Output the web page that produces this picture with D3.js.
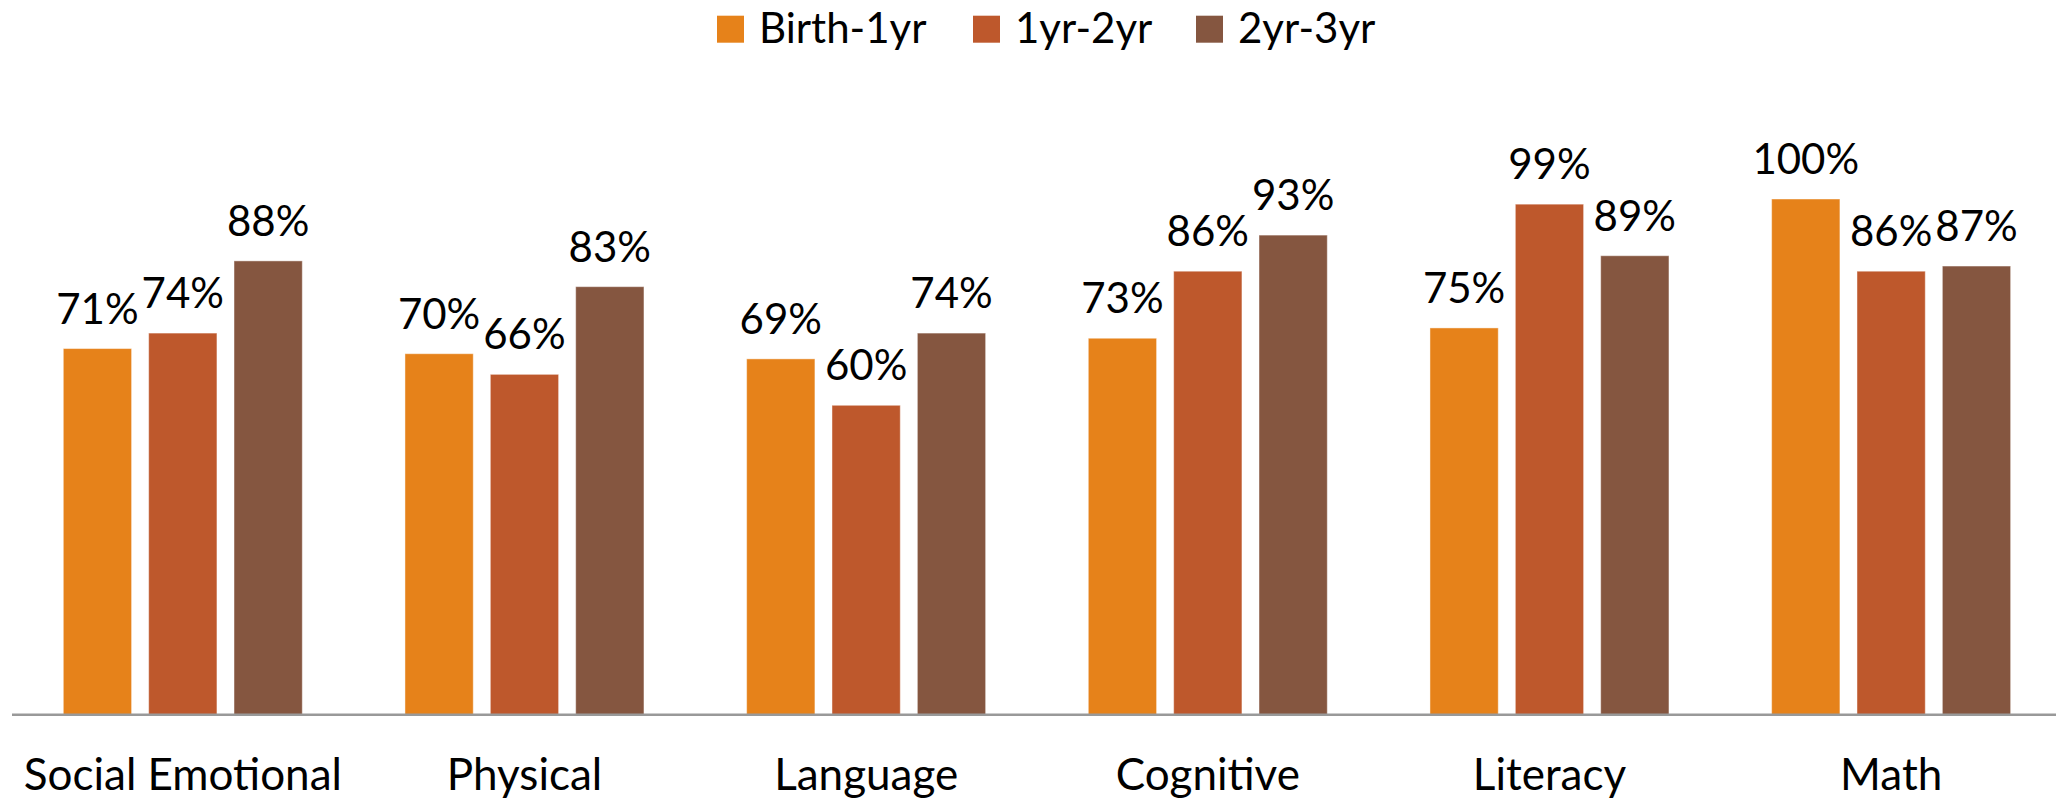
<!DOCTYPE html>
<html><head><meta charset="utf-8">
<script src="https://cdn.jsdelivr.net/npm/d3@7/dist/d3.min.js"></script>
<style>html,body{margin:0;padding:0;background:#fff;}svg{display:block;}</style>
</head><body>
<svg id="chart" width="2056" height="800"></svg>
<script>
const categories = ["Social Emotional", "Physical", "Language", "Cognitive", "Literacy", "Math"];
const seriesNames = ["Birth-1yr", "1yr-2yr", "2yr-3yr"];
const birthTo1 = [0.71, 0.70, 0.69, 0.73, 0.75, 1.00];
const oneTo2 = [0.74, 0.66, 0.60, 0.86, 0.99, 0.86];
const twoTo3 = [0.88, 0.83, 0.74, 0.93, 0.89, 0.87];
const colors = ["#E6821A", "#BE582C", "#855640"];

const seriesValues = [birthTo1, oneTo2, twoTo3];
const FONT = "Lato, 'Open Sans', sans-serif";
const FS = 42;

const svg = d3.select("#chart");
const x0 = d3.scaleBand().domain(categories).range([12, 2062]).paddingInner(0).paddingOuter(0);
const x1 = d3.scaleBand().domain(seriesNames).range([51.3, 290.3]).paddingInner(0.2).paddingOuter(0);
const y = d3.scaleLinear().domain([0, 1]).range([714.7, 199]);

const color = d3.scaleOrdinal().domain(seriesNames).range(colors);

const groups = svg.append("g").selectAll("g")
  .data(categories)
  .join("g")
  .attr("transform", d => `translate(${x0(d)},0)`);

groups.selectAll("rect")
  .data((c, i) => seriesNames.map((s, j) => ({s, v: seriesValues[j][i]})))
  .join("rect")
  .attr("x", d => x1(d.s))
  .attr("width", x1.bandwidth())
  .attr("y", d => y(d.v))
  .attr("height", d => y(0) - y(d.v))
  .attr("fill", d => color(d.s))
  .attr("stroke", "rgba(255,255,255,0.45)")
  .attr("stroke-width", 1);

groups.selectAll("text.lbl")
  .data((c, i) => seriesNames.map((s, j) => ({s, v: seriesValues[j][i]})))
  .join("text")
  .attr("class", "lbl")
  .attr("x", d => x1(d.s) + x1.bandwidth() / 2)
  .attr("y", d => y(d.v) - 25)
  .attr("text-anchor", "middle")
  .attr("font-family", FONT)
  .attr("font-size", FS)
  .attr("fill", "#000")
  .text(d => Math.round(d.v * 100) + "%");

// x axis
const xAxis = d3.axisBottom(x0).tickSize(0).tickPadding(0);
const axG = svg.append("g").attr("transform", `translate(0,${y(0)})`).call(xAxis);
axG.select(".domain").attr("stroke", "#999").attr("stroke-width", 2.5).attr("d", "M12,0H2056");
axG.selectAll(".tick text")
  .attr("font-family", FONT)
  .attr("font-size", 44)
  .attr("fill", "#000")
  .attr("dy", null)
  .attr("y", 790 - y(0));

// legend
const legendX = [717, 973, 1196];
const leg = svg.append("g").selectAll("g")
  .data(seriesNames)
  .join("g")
  .attr("transform", (d, i) => `translate(${legendX[i]},0)`);
leg.append("rect").attr("x", 0).attr("y", 15.7).attr("width", 27).attr("height", 27).attr("fill", d => color(d));
leg.append("text").attr("x", 42).attr("y", 42.7)
  .attr("font-family", FONT).attr("font-size", FS).attr("fill", "#000")
  .text(d => d);
</script>
</body></html>
